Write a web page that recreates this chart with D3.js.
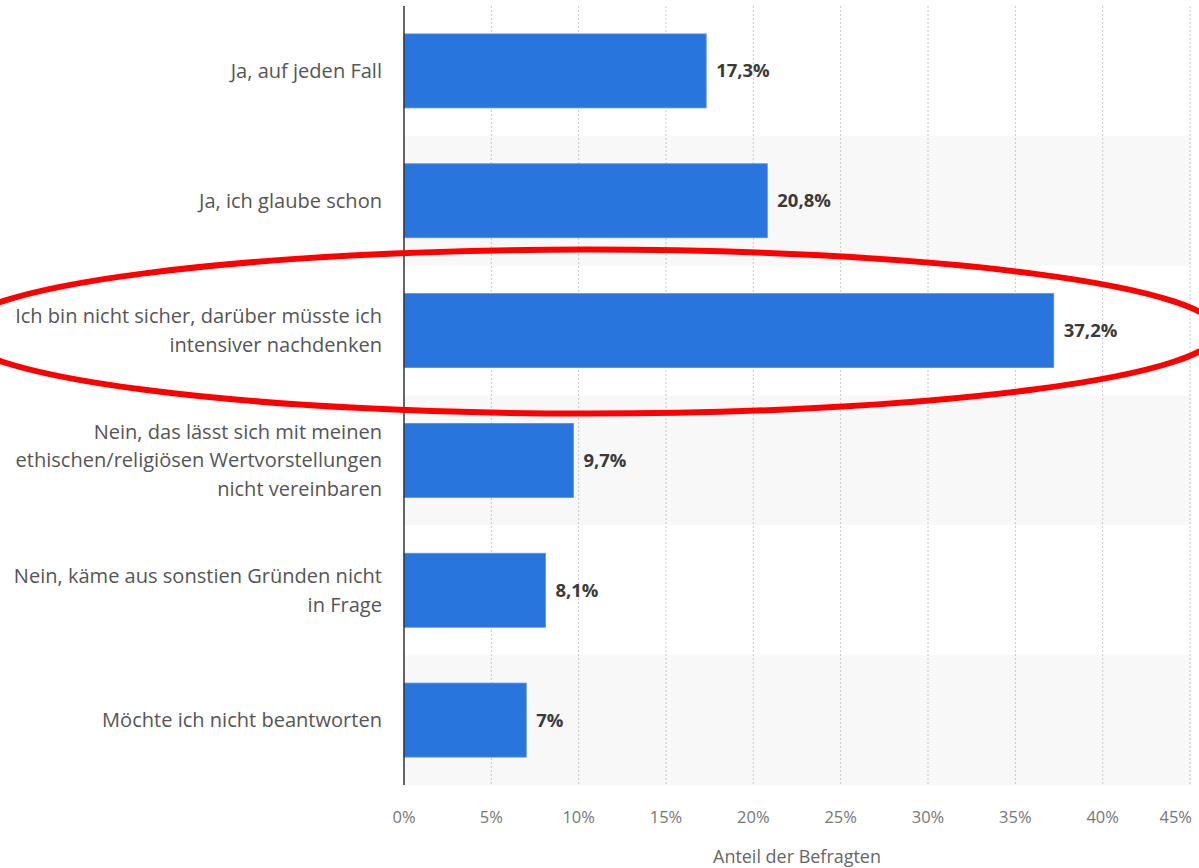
<!DOCTYPE html>
<html>
<head>
<meta charset="utf-8">
<script src="https://cdn.jsdelivr.net/npm/d3@7"></script>
<style>
  html, body { margin: 0; padding: 0; background: #fff; }
  svg { display: block; }
</style>
</head>
<body>
<svg id="chart" width="1199" height="868"></svg>
<script>
// ---- data ----
const categories = [
  "Ja, auf jeden Fall",
  "Ja, ich glaube schon",
  "Ich bin nicht sicher, darüber müsste ich intensiver nachdenken",
  "Nein, das lässt sich mit meinen ethischen/religiösen Wertvorstellungen nicht vereinbaren",
  "Nein, käme aus sonstien Gründen nicht in Frage",
  "Möchte ich nicht beantworten"
];
const labelLines = [
  ["Ja, auf jeden Fall"],
  ["Ja, ich glaube schon"],
  ["Ich bin nicht sicher, darüber müsste ich", "intensiver nachdenken"],
  ["Nein, das lässt sich mit meinen", "ethischen/religiösen Wertvorstellungen", "nicht vereinbaren"],
  ["Nein, käme aus sonstien Gründen nicht", "in Frage"],
  ["Möchte ich nicht beantworten"]
];
const values = [17.3, 20.8, 37.2, 9.7, 8.1, 7];
const xTicks = [0, 5, 10, 15, 20, 25, 30, 35, 40, 45];
const axisTitle = "Anteil der Befragten";
const highlightIndex = 2;

// ---- layout ----
const svg = d3.select("#chart");
const FONT = "'Open Sans', 'Liberation Sans', sans-serif";
const plot = { left: 404, right: 1190, top: 6, bottom: 785 };

const x = d3.scaleLinear().domain([0, 45]).range([plot.left, plot.right]);
const y = d3.scaleBand().domain(categories).range([plot.top, plot.bottom])
  .paddingInner(0.43).paddingOuter(0.215);
const step = y.step();

const fmt = v => (Number.isInteger(v) ? String(v) : String(v).replace(".", ",")) + "%";

function fitSize(str, target, weight) {
  const t = svg.append("text").attr("font-family", FONT).attr("font-size", 100)
    .attr("font-weight", weight || 400).text(str);
  const w = t.node().getComputedTextLength();
  t.remove();
  return 100 * target / w;
}
const labelSize = fitSize("Ich bin nicht sicher, darüber müsste ich", 367);
const valueSize = fitSize("17,3%", 53.6, 700);
const tickSize = fitSize("10%", 32.5);
const titleSize = fitSize(axisTitle, 168);

// stripes
svg.append("g").selectAll("rect")
  .data(categories.filter((d, i) => i % 2 === 1))
  .join("rect")
  .attr("x", plot.left)
  .attr("y", d => y(d) - step * y.paddingInner() / 2)
  .attr("width", plot.right - plot.left + 2)
  .attr("height", step)
  .attr("fill", "#f8f8f8");

// gridlines
svg.append("g").selectAll("line")
  .data(xTicks.filter(t => t > 0))
  .join("line")
  .attr("x1", d => x(d)).attr("x2", d => x(d))
  .attr("y1", plot.top).attr("y2", plot.bottom)
  .attr("stroke", "#c8c8c8").attr("stroke-width", 1)
  .attr("stroke-dasharray", "2,2");

// bars
svg.append("g").selectAll("rect")
  .data(values)
  .join("rect")
  .attr("x", x(0))
  .attr("y", (d, i) => y(categories[i]))
  .attr("width", d => x(d) - x(0))
  .attr("height", y.bandwidth())
  .attr("fill", "#2876dd")
  .attr("stroke", "#5293e6").attr("stroke-width", 0.8);

// y axis line
svg.append("line")
  .attr("x1", plot.left).attr("x2", plot.left)
  .attr("y1", plot.top).attr("y2", plot.bottom)
  .attr("stroke", "#333").attr("stroke-width", 1.5);

// value labels
svg.append("g").selectAll("text")
  .data(values)
  .join("text")
  .attr("x", d => x(d) + 10)
  .attr("y", (d, i) => y(categories[i]) + y.bandwidth() / 2)
  .attr("dy", "0.35em")
  .attr("font-family", FONT).attr("font-size", valueSize).attr("font-weight", 700)
  .attr("fill", "#3a3a3a")
  .text(fmt);

// category labels
const lineH = 28.5;
const lab = svg.append("g").selectAll("text")
  .data(labelLines)
  .join("text")
  .attr("text-anchor", "end")
  .attr("font-family", FONT).attr("font-size", labelSize)
  .attr("fill", "#555");
lab.each(function(lines, i) {
  const cy = y(categories[i]) + y.bandwidth() / 2;
  const y0 = cy - (lines.length - 1) * lineH / 2;
  d3.select(this).selectAll("tspan").data(lines).join("tspan")
    .attr("x", 382)
    .attr("y", (l, j) => y0 + j * lineH)
    .attr("dy", "0.35em")
    .text(l => l);
});

// x tick labels
svg.append("g").selectAll("text")
  .data(xTicks)
  .join("text")
  .attr("x", d => d === 45 ? 1192 : x(d))
  .attr("y", 817)
  .attr("dy", "0.35em")
  .attr("text-anchor", d => d === 45 ? "end" : "middle")
  .attr("font-family", FONT).attr("font-size", tickSize)
  .attr("fill", "#777")
  .text(d => d + "%");

// axis title
svg.append("text")
  .attr("x", (plot.left + plot.right) / 2)
  .attr("y", 857)
  .attr("dy", "0.35em")
  .attr("text-anchor", "middle")
  .attr("font-family", FONT).attr("font-size", titleSize)
  .attr("fill", "#666")
  .text(axisTitle);

// highlight ellipse
const hc = y(categories[highlightIndex]) + y.bandwidth() / 2;
svg.append("ellipse")
  .attr("cx", 588).attr("cy", hc + 1)
  .attr("rx", 630).attr("ry", 82)
  .attr("fill", "none")
  .attr("stroke", "#ff0000").attr("stroke-width", 6);
</script>
</body>
</html>
